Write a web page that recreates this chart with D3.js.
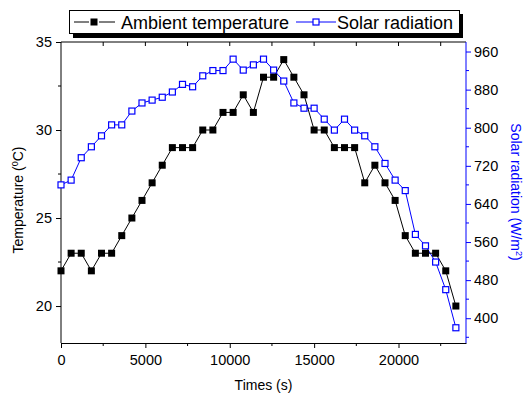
<!DOCTYPE html>
<html lang="en">
<head>
<meta charset="UTF-8">
<title>Ambient temperature and solar radiation</title>
<script src="https://d3js.org/d3.v7.min.js"></script>
<style>
  body { margin: 0; background: #fff; }
  svg text { font-family: "Liberation Sans", Arial, sans-serif; }
</style>
</head>
<body>
<svg id="chart"></svg>
<script>
// time (s)
const times = [0, 600, 1200, 1800, 2400, 3000, 3600, 4200, 4800, 5400,
               6000, 6600, 7200, 7800, 8400, 9000, 9600, 10200, 10800, 11400,
               12000, 12600, 13200, 13800, 14400, 15000, 15600, 16200, 16800, 17400,
               18000, 18600, 19200, 19800, 20400, 21000, 21600, 22200, 22800, 23400];
// ambient temperature (°C)
const temperature = [22, 23, 23, 22, 23, 23, 24, 25, 26, 27,
                     28, 29, 29, 29, 30, 30, 31, 31, 32, 31,
                     33, 33, 34, 33, 32, 30, 30, 29, 29, 29,
                     27, 28, 27, 26, 24, 23, 23, 23, 22, 20];
// solar radiation (W/m2)
const radiation = [680, 690, 737, 760, 783, 806, 806, 835, 852, 858,
                   864, 875, 891, 886, 909, 920, 920, 944, 921, 932,
                   944, 921, 898, 852, 841, 841, 818, 795, 818, 795,
                   783, 760, 725, 690, 668, 576, 552, 518, 460, 380];

const xTicks = [0, 5000, 10000, 15000, 20000];
const xMinor = [2500, 7500, 12500, 17500, 22500];
const tTicks = [20, 25, 30, 35];
const tMinor = [22.5, 27.5, 32.5];
const rTicks = [400, 480, 560, 640, 720, 800, 880, 960];
const rMinor = [360, 440, 520, 600, 680, 760, 840, 920];

const width = 523, height = 394;
const margin = {top: 42, right: 57, bottom: 51, left: 61};
const blue = "#0000ff";
const fmt = d3.format("d");

const svg = d3.select("#chart").attr("width", width).attr("height", height);

const x = d3.scaleLinear().domain([0, 24000]).range([margin.left, width - margin.right]);
const yT = d3.scaleLinear().domain([17.9, 35]).range([height - margin.bottom, margin.top]);
const yR = d3.scaleLinear().domain([348, 980]).range([height - margin.bottom, margin.top]);

const plotB = height - margin.bottom, plotT = margin.top;
const plotL = margin.left, plotR = width - margin.right;

// bottom axis
const gx = svg.append("g").attr("transform", `translate(0,${plotB})`)
  .call(d3.axisBottom(x).tickValues(xTicks).tickFormat(fmt).tickSize(5).tickSizeOuter(0).tickPadding(7));
gx.selectAll(".tick text").style("font-size", "14.5px").attr("fill", "#000");
gx.selectAll(".tick line").attr("stroke", "#000");
gx.append("g").selectAll("line").data(xMinor).join("line")
  .attr("x1", d => x(d)).attr("x2", d => x(d)).attr("y1", 0).attr("y2", 3).attr("stroke", "#000");

// top frame with inward ticks
const gTop = svg.append("g").attr("transform", `translate(0,${plotT})`);
gTop.append("line").attr("x1", plotL).attr("x2", plotR).attr("stroke", "#000");
gTop.selectAll(".tt").data(xTicks.concat(xMinor).filter(d => d > 0)).join("line")
  .attr("x1", d => x(d)).attr("x2", d => x(d)).attr("y1", 0).attr("y2", 4).attr("stroke", "#000");

// left axis
const gy = svg.append("g").attr("transform", `translate(${plotL},0)`)
  .call(d3.axisLeft(yT).tickValues(tTicks).tickFormat(fmt).tickSize(5).tickSizeOuter(0).tickPadding(4));
gy.select(".domain").attr("d", `M0,${plotB}V${plotT}`);
gy.selectAll(".tick text").style("font-size", "14.5px").attr("fill", "#000");
gy.append("g").selectAll("line").data(tMinor).join("line")
  .attr("x1", 0).attr("x2", -3).attr("y1", d => yT(d)).attr("y2", d => yT(d)).attr("stroke", "#000");

// right axis (blue)
const gr = svg.append("g").attr("transform", `translate(${plotR},0)`)
  .call(d3.axisRight(yR).tickValues(rTicks).tickFormat(fmt).tickSize(5).tickSizeOuter(0).tickPadding(3));
gr.select(".domain").attr("stroke", blue).attr("d", `M0,${plotB}V${plotT}`);
gr.selectAll(".tick line").attr("stroke", blue);
gr.selectAll(".tick text").style("font-size", "14.5px").attr("fill", "#000");
gr.append("g").selectAll("line").data(rMinor).join("line")
  .attr("x1", 0).attr("x2", 3).attr("y1", d => yR(d)).attr("y2", d => yR(d)).attr("stroke", blue);

// axis titles
svg.append("text").attr("x", (plotL + plotR) / 2).attr("y", 390)
  .attr("text-anchor", "middle").style("font-size", "14px").text("Times (s)");

const tl = svg.append("text").attr("transform", `translate(23,200) rotate(-90)`)
  .attr("text-anchor", "middle").style("font-size", "14px");
tl.append("tspan").text("Temperature (");
tl.append("tspan").attr("baseline-shift", "super").style("font-size", "9px").text("0");
tl.append("tspan").text("C)");

const tr = svg.append("text").attr("transform", `translate(511,192) rotate(90)`)
  .attr("text-anchor", "middle").attr("fill", blue).style("font-size", "14px");
tr.append("tspan").text("Solar radiation (W/m");
tr.append("tspan").attr("baseline-shift", "super").style("font-size", "9px").text("2");
tr.append("tspan").text(")");

// series
const data = times.map((t, i) => ({t, temp: temperature[i], rad: radiation[i]}));

svg.append("path").datum(data)
  .attr("fill", "none").attr("stroke", blue).attr("stroke-width", 1)
  .attr("d", d3.line().x(d => x(d.t)).y(d => yR(d.rad)));
svg.append("path").datum(data)
  .attr("fill", "none").attr("stroke", "#000").attr("stroke-width", 1)
  .attr("d", d3.line().x(d => x(d.t)).y(d => yT(d.temp)));

svg.selectAll(".rad").data(data).join("rect").attr("class", "rad")
  .attr("x", d => x(d.t) - 3).attr("y", d => yR(d.rad) - 3)
  .attr("width", 6).attr("height", 6)
  .attr("fill", "#fff").attr("stroke", blue).attr("stroke-width", 1.2);
svg.selectAll(".temp").data(data).join("rect").attr("class", "temp")
  .attr("x", d => x(d.t) - 3.5).attr("y", d => yT(d.temp) - 3.5)
  .attr("width", 7).attr("height", 7).attr("fill", "#000");

// legend with drop shadow
const lg = svg.append("g");
lg.append("rect").attr("x", 73).attr("y", 14).attr("width", 390).attr("height", 24).attr("fill", "#000");
lg.append("rect").attr("x", 69.5).attr("y", 10.5).attr("width", 390).attr("height", 23)
  .attr("fill", "#fff").attr("stroke", "#000").attr("stroke-width", 1);
lg.append("line").attr("x1", 74).attr("x2", 115).attr("y1", 22).attr("y2", 22).attr("stroke", "#000");
lg.append("rect").attr("x", 90.5).attr("y", 18.5).attr("width", 7).attr("height", 7).attr("fill", "#000")
  .attr("stroke", "#fff").attr("stroke-width", 3).attr("paint-order", "stroke");
lg.append("text").attr("x", 121).attr("y", 28.5).style("font-size", "18px").text("Ambient temperature");
lg.append("line").attr("x1", 296).attr("x2", 336).attr("y1", 22).attr("y2", 22).attr("stroke", blue);
lg.append("rect").attr("x", 313).attr("y", 19).attr("width", 6).attr("height", 6)
  .attr("fill", "#fff").attr("stroke", blue).attr("stroke-width", 1.2);
lg.append("text").attr("x", 337).attr("y", 28.5).style("font-size", "18px").text("Solar radiation");
</script>
</body>
</html>
